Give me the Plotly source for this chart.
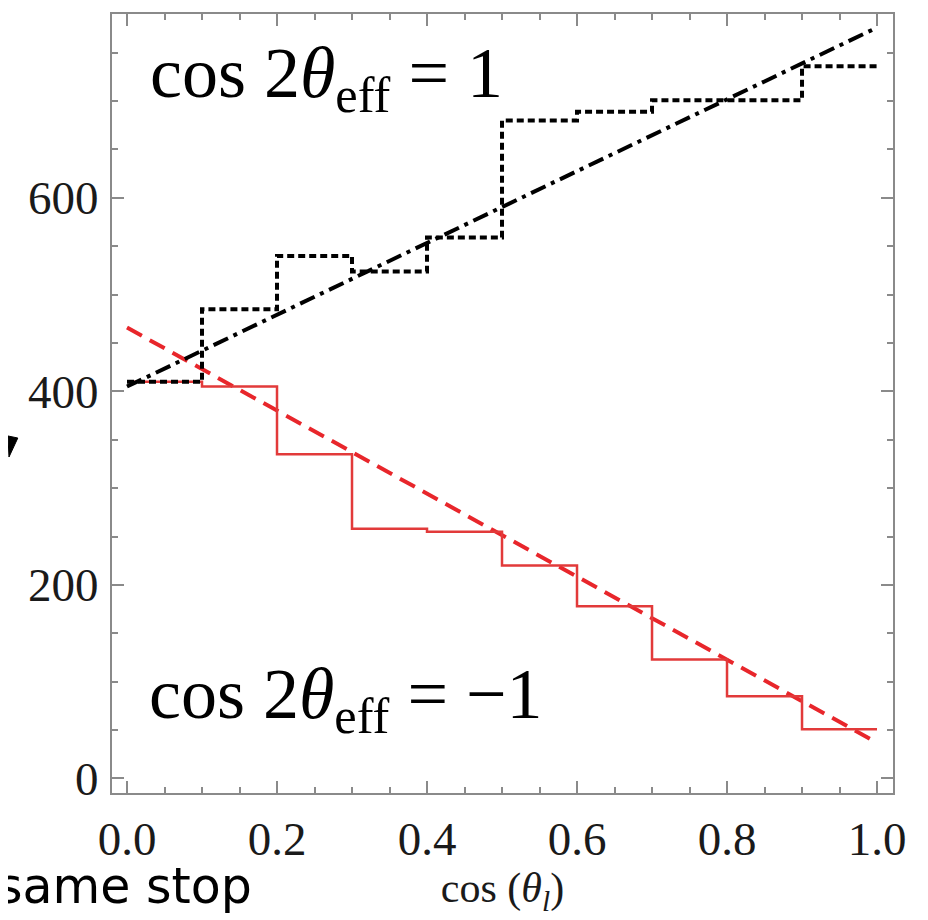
import plotly.graph_objects as go

# bin edges of cos(theta_l)
bin_edges = [0.0, 0.1, 0.2, 0.3, 0.4, 0.5, 0.6, 0.7, 0.8, 0.9, 1.0]
# histogram counts, cos 2theta_eff = 1 (black dotted)
counts_plus = [410, 485, 540, 524, 559, 680, 689, 701, 701, 736]
# histogram counts, cos 2theta_eff = -1 (red solid)
counts_minus = [410, 405, 335, 258, 255, 220, 178, 123, 85, 51]
# straight-line fits (value at x=0 and at x=1)
fit_x = [0.0, 1.0]
fit_plus = [405, 776]
fit_minus = [466, 37]

x_ticks = [0.0, 0.2, 0.4, 0.6, 0.8, 1.0]
x_tick_text = ["0.0", "0.2", "0.4", "0.6", "0.8", "1.0"]
y_ticks = [0, 200, 400, 600]
y_tick_text = ["0", "200", "400", "600"]

fig = go.Figure()

fig.add_trace(go.Scatter(
    x=fit_x, y=fit_minus, mode="lines",
    line=dict(color="#e8262b", width=4, dash="17px,9px"),
    hoverinfo="skip", showlegend=False))
fig.add_trace(go.Scatter(
    x=bin_edges, y=counts_minus + [counts_minus[-1]], mode="lines",
    line=dict(color="#e23a3a", width=2.5, shape="hv"),
    hoverinfo="skip", showlegend=False))
fig.add_trace(go.Scatter(
    x=bin_edges, y=counts_plus + [counts_plus[-1]], mode="lines",
    line=dict(color="black", width=4, shape="hv", dash="7px,4px"),
    hoverinfo="skip", showlegend=False))
fig.add_trace(go.Scatter(
    x=fit_x, y=fit_plus, mode="lines",
    line=dict(color="black", width=4, dash="16px,6px,4px,6px"),
    hoverinfo="skip", showlegend=False))

serif = "Liberation Serif, Times New Roman, serif"
axis_common = dict(
    showline=True, linecolor="#8a8a8a", linewidth=2, mirror="ticks",
    ticks="inside", ticklen=12, tickwidth=2, tickcolor="#8a8a8a",
    showgrid=False, zeroline=False, automargin=False,
    tickfont=dict(family=serif, size=47, color="#1a1a1a"),
)

# page body has an 8px margin, so the figure is 8px smaller and margins shifted
fig.update_layout(
    width=920, height=912,
    margin=dict(l=104, r=35, t=6, b=127, autoexpand=False),
    paper_bgcolor="white", plot_bgcolor="white",
    xaxis=dict(range=[-0.02, 1.0213], tickvals=x_ticks, ticktext=x_tick_text,
               minor=dict(dtick=0.05, tick0=0, ticks="inside", ticklen=6,
                          tickwidth=2, tickcolor="#8a8a8a"),
               ticklabelstandoff=4,
               title=dict(text="cos (<i>θ</i><sub><i>l</i></sub>)",
                          font=dict(family=serif, size=42, color="#1a1a1a"),
                          standoff=8),
               **axis_common),
    yaxis=dict(range=[-15, 790], tickvals=y_ticks, ticktext=y_tick_text,
               minor=dict(dtick=50, tick0=0, ticks="inside", ticklen=6,
                          tickwidth=2, tickcolor="#8a8a8a"),
               ticklabelstandoff=2,
               **axis_common),
)

fig.add_annotation(
    x=0.028, y=724, xref="x", yref="y", xanchor="left", yanchor="middle",
    text="cos 2<i>θ</i><sub>eff</sub> = 1", showarrow=False,
    font=dict(family=serif, size=72, color="black"))
fig.add_annotation(
    x=0.027, y=82, xref="x", yref="y", xanchor="left", yanchor="middle",
    text="cos 2<i>θ</i><sub>eff</sub> = −1", showarrow=False,
    font=dict(family=serif, size=72, color="black"))
fig.add_annotation(
    x=-0.15, y=-0.12, xref="paper", yref="paper", xanchor="left", yanchor="middle",
    text="same stop", showarrow=False,
    font=dict(family="DejaVu Sans, sans-serif", size=49, color="black"))

fig.add_shape(type="path", xref="paper", yref="paper",
              path="M -0.1332,0.4583 L -0.1206,0.4557 L -0.1319,0.4313 Z",
              fillcolor="black", line=dict(color="black", width=1))

fig.write_html("out.html")
